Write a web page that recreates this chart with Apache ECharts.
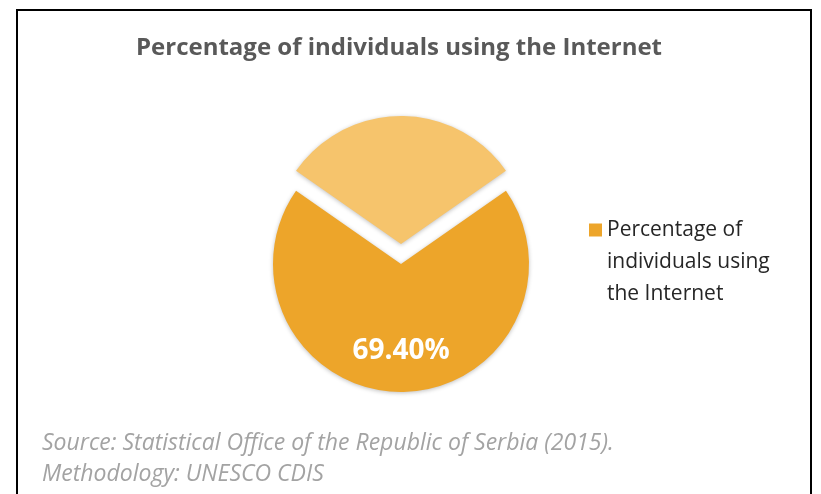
<!DOCTYPE html>
<html>
<head>
<meta charset="utf-8">
<script src="https://cdn.jsdelivr.net/npm/echarts@6/dist/echarts.min.js"></script>
<style>
  html, body { margin: 0; padding: 0; background: #fff; }
  #chart { width: 821px; height: 494px; }
</style>
</head>
<body>
<div id="chart"></div>
<script>
// Share of individuals using the Internet, Serbia 2015
const sliceNames = ['Percentage of individuals using the Internet', 'Other'];
const sliceValues = [69.4, 30.6];
const sliceColors = ['#EDA52A', '#F6C46C'];
const titleText = 'Percentage of individuals using the Internet';
const legendLines = ['Percentage of', 'individuals using', 'the Internet'];
const sourceLines = [
  'Source: Statistical Office of the Republic of Serbia (2015).',
  'Methodology: UNESCO CDIS'
];

// rotate so that the smaller slice is centred at the top
const smallShare = sliceValues[1] / (sliceValues[0] + sliceValues[1]);
const startAngle = 90 - smallShare * 180;

const chart = echarts.init(document.getElementById('chart'), null, { renderer: 'canvas' });

chart.setOption({
  backgroundColor: '#ffffff',
  animation: false,
  title: [
    {
      text: titleText,
      left: 131,
      top: 31,
      textStyle: {
        fontFamily: 'Open Sans',
        fontSize: 24,
        fontWeight: 'bold',
        color: '#595959'
      }
    },
    {
      text: sourceLines.join('\n'),
      left: 37,
      top: 423,
      textStyle: {
        fontFamily: 'Open Sans',
        fontSize: 23,
        fontStyle: 'italic',
        fontWeight: 'normal',
        color: '#A3A3A3',
        lineHeight: 31
      }
    }
  ],
  legend: {
    data: [sliceNames[0]],
    orient: 'vertical',
    left: 584,
    top: 145,
    icon: 'rect',
    itemWidth: 13,
    itemHeight: 13,
    selectedMode: false,
    // two empty lines above keep the marker level with the first text line
    formatter: function () {
      return '\n\n' + legendLines.join('\n');
    },
    textStyle: {
      fontFamily: 'Open Sans',
      fontSize: 21,
      color: '#262626',
      lineHeight: 32
    }
  },
  graphic: [
    {
      type: 'rect',
      shape: { x: 17, y: 10, width: 794, height: 500 },
      style: { fill: 'none', stroke: '#000000', lineWidth: 2 },
      silent: true
    }
  ],
  series: [
    {
      type: 'pie',
      center: [401, 264],
      radius: 128,
      startAngle: startAngle,
      clockwise: true,
      selectedMode: 'single',
      selectedOffset: 20,
      avoidLabelOverlap: false,
      emphasis: { disabled: true },
      itemStyle: {
        shadowBlur: 4,
        shadowColor: 'rgba(0,0,0,0.25)',
        shadowOffsetY: 1
      },
      labelLine: { show: false },
      data: sliceNames.map(function (name, i) {
        const item = {
          name: name,
          value: sliceValues[i],
          itemStyle: { color: sliceColors[i] }
        };
        if (i === 0) {
          item.label = {
            show: true,
            position: 'inside',
            // empty first line pushes the value further down inside the slice
            formatter: function (p) { return '\n' + p.value.toFixed(2) + '%'; },
            fontFamily: 'Open Sans',
            fontSize: 28,
            fontWeight: 'bold',
            color: '#ffffff',
            lineHeight: 40
          };
        } else {
          item.selected = true;
          item.label = { show: false };
        }
        return item;
      })
    }
  ]
});
</script>
</body>
</html>
